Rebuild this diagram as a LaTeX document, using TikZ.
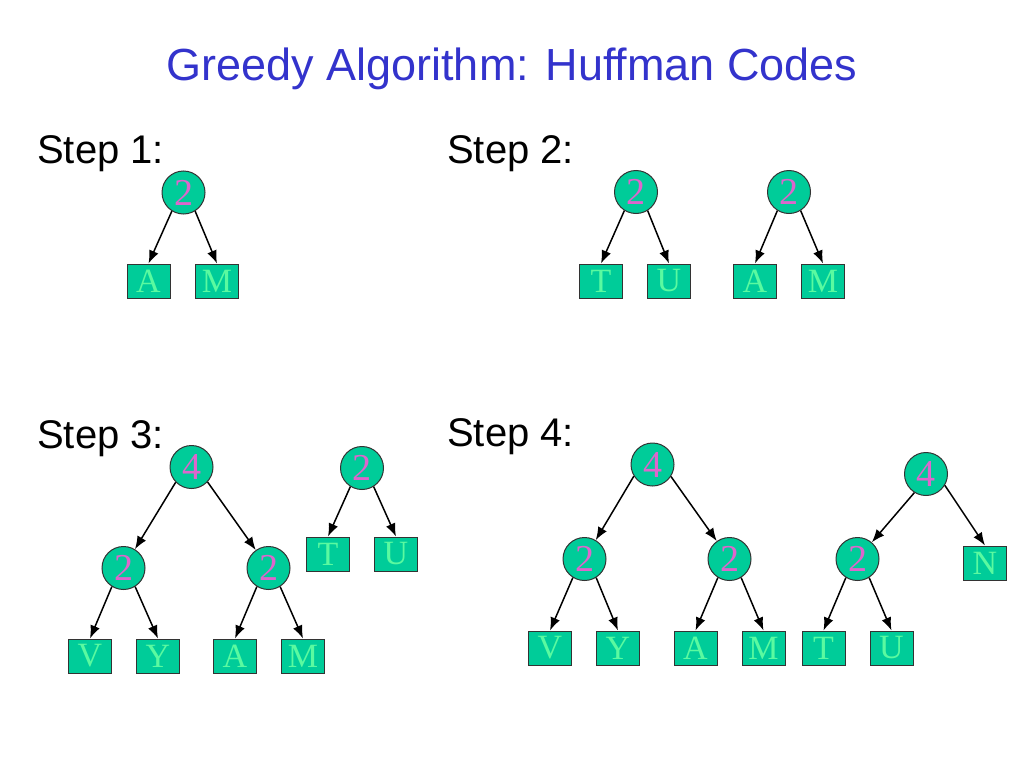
\documentclass[tikz,border=0pt]{standalone}
\usepackage{fontspec}
\setmainfont{Liberation Serif}
\newfontfamily\arialfont{Liberation Sans}
\usetikzlibrary{arrows.meta}
\definecolor{nodegreen}{RGB}{0,204,153}
\definecolor{numpink}{RGB}{221,102,204}
\definecolor{letgreen}{RGB}{90,250,160}
\definecolor{titleblue}{RGB}{51,51,204}
\begin{document}
\begin{tikzpicture}[x=1pt,y=-1pt,
  hnode/.style={circle,draw=black!80,fill=nodegreen,line width=1pt,minimum size=43pt,inner sep=0pt,text=numpink,font=\fontsize{38}{38}\selectfont},
  leaf/.style={rectangle,draw=black!80,fill=nodegreen,line width=1pt,minimum width=43pt,minimum height=34pt,inner sep=0pt,text=letgreen,font=\fontsize{34}{34}\selectfont},
  steplabel/.style={anchor=base west,inner sep=0pt,font=\arialfont\fontsize{40}{40}\selectfont},
  edge/.style={-{Latex[length=13pt,width=10pt]},line width=1.5pt}]
\useasboundingbox (0,0) rectangle (1024,768);
\node[anchor=base,inner sep=0pt,text=titleblue,font=\arialfont\fontsize{45}{45}\selectfont] (title) at (512,80) {Greedy Algorithm: Huffman Codes};
\node[steplabel] (s1) at (37,163) {Step 1:};
\node[steplabel] (s2) at (447,163) {Step 2:};
\node[steplabel] (s3) at (37,448) {Step 3:};
\node[steplabel] (s4) at (447,446) {Step 4:};
\node[hnode] (a2) at (183.5,192.5) {2};
\node[leaf] (aA) at (148.5,281) {A};
\node[leaf] (aM) at (217,281) {M};
\draw[edge] (a2.-122) -- (aA.north);
\draw[edge] (a2.-58) -- (aM.north);
\node[hnode] (b2tu) at (636,192) {2};
\node[hnode] (b2am) at (789,192) {2};
\node[leaf] (bT) at (601,281) {T};
\node[leaf] (bU) at (669,281) {U};
\node[leaf] (bA) at (755,281) {A};
\node[leaf] (bM) at (823,281) {M};
\draw[edge] (b2tu.-122) -- (bT.north);
\draw[edge] (b2tu.-58) -- (bU.north);
\draw[edge] (b2am.-122) -- (bA.north);
\draw[edge] (b2am.-58) -- (bM.north);
\node[hnode] (c4) at (191.5,467) {4};
\node[hnode] (c2vy) at (123.5,568) {2};
\node[hnode] (c2am) at (268.5,568) {2};
\node[hnode] (c2tu) at (362,468) {2};
\node[leaf] (cV) at (90,656) {V};
\node[leaf] (cY) at (158,656) {Y};
\node[leaf] (cA) at (235,656) {A};
\node[leaf] (cM) at (303,656) {M};
\node[leaf] (cT) at (328,554) {T};
\node[leaf] (cU) at (396,554) {U};
\draw[edge] (c4.-136) -- (c2vy);
\draw[edge] (c4.-43) -- (c2am);
\draw[edge] (c2vy.-122) -- (cV.north);
\draw[edge] (c2vy.-58) -- (cY.north);
\draw[edge] (c2am.-122) -- (cA.north);
\draw[edge] (c2am.-58) -- (cM.north);
\draw[edge] (c2tu.-122) -- (cT.north);
\draw[edge] (c2tu.-58) -- (cU.north);
\node[hnode] (d4l) at (652.5,464.5) {4};
\node[hnode] (d4r) at (926,474) {4};
\node[hnode] (d2vy) at (584.5,559) {2};
\node[hnode] (d2am) at (729.5,559) {2};
\node[hnode] (d2tu) at (857.5,559) {2};
\node[leaf] (dN) at (985,563) {N};
\node[leaf] (dV) at (550,648) {V};
\node[leaf] (dY) at (618,648) {Y};
\node[leaf] (dA) at (695.5,648) {A};
\node[leaf] (dM) at (763.5,648) {M};
\node[leaf] (dT) at (823.5,648) {T};
\node[leaf] (dU) at (891.5,648) {U};
\draw[edge] (d4l.-148) -- (d2vy);
\draw[edge] (d4l.-33) -- (d2am);
\draw[edge] (d4r.-122) -- (d2tu);
\draw[edge] (d4r.-31) -- (dN.north);
\draw[edge] (d2vy.-122) -- (dV.north);
\draw[edge] (d2vy.-58) -- (dY.north);
\draw[edge] (d2am.-122) -- (dA.north);
\draw[edge] (d2am.-58) -- (dM.north);
\draw[edge] (d2tu.-122) -- (dT.north);
\draw[edge] (d2tu.-58) -- (dU.north);
\end{tikzpicture}
\end{document}
